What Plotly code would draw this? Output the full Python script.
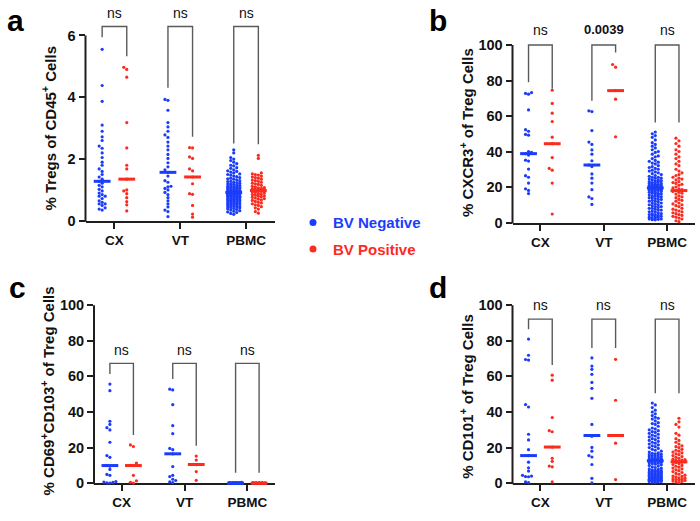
import numpy as np
import plotly.graph_objects as go

W, H = 700, 521
FONT = "Liberation Sans, Arial, Helvetica, sans-serif"
BLUE = "#1b3dfb"
RED = "#fb2b1e"
AXIS = "#1e1e1e"
BRACKET = "#5a5a5a"

categories = ["CX", "VT", "PBMC"]
legend_names = ["BV Negative", "BV Positive"]

# ---------------- panel a: % Tregs of CD45+ cells ----------------
a_cx_neg = [5.55, 4.38, 3.87, 3.10, 2.90, 2.72, 2.60, 2.42, 2.35, 2.20, 2.05, 1.90, 1.80,
            1.68, 1.60, 1.50, 1.42, 1.35, 1.28, 1.22, 1.15, 1.10, 1.02, 0.97, 0.90, 0.85,
            0.80, 0.80, 0.72, 0.65, 0.60, 0.55, 0.55, 0.50, 0.42, 0.38, 0.35]
a_cx_pos = [4.97, 4.90, 4.65, 3.18, 2.36, 1.80, 1.68, 1.35, 1.00, 0.97, 0.88, 0.75, 0.62,
            0.52, 0.32]
a_vt_neg = [3.93, 3.90, 3.58, 3.18, 3.04, 2.90, 2.78, 2.70, 2.55, 2.42, 2.30, 2.15, 2.02,
            1.88, 1.75, 1.65, 1.57, 1.45, 1.30, 1.25, 1.12, 1.10, 1.05, 1.00, 0.92, 0.85,
            0.75, 0.65, 0.55, 0.45, 0.35, 0.30, 0.14]
a_vt_pos = [2.37, 2.36, 2.07, 2.02, 1.68, 1.62, 1.42, 1.20, 0.88, 0.86, 0.50, 0.22, 0.12]
a_pbmc_neg = [2.30, 2.20, 2.05, 2.00, 1.95, 1.90, 1.85, 1.80, 1.78, 1.72, 1.70, 1.65, 1.62,
              1.60, 1.58, 1.55, 1.52, 1.50, 1.48, 1.45, 1.43, 1.40, 1.38, 1.36, 1.35, 1.33,
              1.30, 1.28, 1.27, 1.25, 1.24, 1.22, 1.20, 1.19, 1.18, 1.16, 1.15, 1.14, 1.12,
              1.11, 1.10, 1.09, 1.08, 1.07, 1.06, 1.05, 1.04, 1.03, 1.02, 1.01, 1.00, 0.99,
              0.98, 0.97, 0.97, 0.96, 0.95, 0.95, 0.94, 0.93, 0.93, 0.92,
              0.91, 0.91, 0.90, 0.90, 0.89, 0.88, 0.88, 0.87, 0.86, 0.85, 0.85, 0.84, 0.83,
              0.82, 0.81, 0.80, 0.80, 0.79, 0.78, 0.77, 0.76, 0.75, 0.74, 0.73, 0.72, 0.71,
              0.70, 0.69, 0.68, 0.67, 0.66, 0.65, 0.64, 0.63, 0.62, 0.61, 0.60, 0.58, 0.57,
              0.56, 0.55, 0.54, 0.52, 0.51, 0.50, 0.48, 0.47, 0.46, 0.45, 0.43, 0.42, 0.40,
              0.39, 0.37, 0.35, 0.33, 0.31, 0.29, 0.27, 0.24, 0.21]
a_pbmc_pos = [2.12, 2.02, 1.55, 1.52, 1.50, 1.48, 1.45, 1.42, 1.40, 1.38, 1.35, 1.32, 1.30,
              1.28, 1.25, 1.22, 1.20, 1.18, 1.15, 1.12, 1.10, 1.08, 1.07, 1.05, 1.04, 1.03,
              1.02, 1.01, 1.00, 0.99, 0.98, 0.97, 0.96, 0.95, 0.93, 0.92, 0.90, 0.88, 0.86,
              0.85, 0.83, 0.81, 0.80, 0.78, 0.76, 0.74, 0.72, 0.70, 0.68, 0.66, 0.63, 0.60,
              0.58, 0.55, 0.52, 0.50, 0.46, 0.42, 0.38, 0.30, 0.25]
a_sig = ["ns", "ns", "ns"]

# ---------------- panel b: % CXCR3+ of Treg cells ----------------
b_cx_neg = [73.2, 72.7, 72.3, 63.4, 52.3, 51.4, 49.6, 49.2, 40.0, 39.5, 38.8, 38.0, 35.1,
            34.6, 30.1, 26.4, 25.5, 22.2, 19.0, 18.1, 16.3]
b_cx_pos = [74.5, 67.1, 61.6, 56.9, 48.1, 44.4, 36.6, 30.5, 29.5, 22.2, 4.8]
b_vt_neg = [62.9, 62.5, 51.8, 45.3, 44.0, 40.9, 38.5, 34.8, 32.4, 31.5, 27.4, 25.0, 22.2,
            18.5, 14.4, 13.5, 10.2]
b_vt_pos = [89.0, 87.5, 74.3, 69.5, 48.3]
b_pbmc_neg = [51.0, 50.0, 49.0, 48.0, 46.5, 45.0, 44.0, 43.0, 42.0, 41.0, 40.0, 39.5, 38.5,
              37.5, 37.0, 36.0, 35.0, 34.5, 34.0, 33.5, 33.0, 32.0, 31.5, 31.0, 30.5, 30.0,
              29.5, 29.0, 28.5, 28.0, 27.5, 27.0, 26.5, 26.0, 25.5, 25.5, 25.0, 25.0, 24.5,
              24.0, 24.0, 23.5, 23.5, 23.0, 23.0, 22.5, 22.5, 22.0, 22.0, 21.5, 21.5, 21.5,
              21.0, 21.0, 21.0, 20.5, 20.5, 20.5, 20.0, 20.0, 20.0, 20.0, 19.8, 19.8, 19.7,
              19.7, 19.6, 19.6, 19.6, 19.5, 19.5,
              19.4, 19.4, 19.3, 19.2, 19.0, 19.0, 18.8, 18.5, 18.5, 18.2, 18.0, 18.0, 17.5,
              17.5, 17.0, 17.0, 16.5, 16.5, 16.0, 16.0, 15.5, 15.5, 15.0, 15.0, 14.5, 14.5,
              14.0, 14.0, 13.5, 13.0, 13.0, 12.5, 12.0, 12.0, 11.5, 11.0, 11.0, 10.5, 10.0,
              10.0, 9.5, 9.0, 9.0, 8.5, 8.0, 8.0, 7.5, 7.0, 7.0, 6.5, 6.0, 6.0, 5.5, 5.0,
              5.0, 4.5, 4.5, 4.0, 4.0, 3.5, 3.5, 3.0, 3.0, 2.5, 2.5, 2.0, 2.0, 1.8, 1.6, 1.5]
b_pbmc_pos = [47.5, 46.0, 44.5, 43.0, 41.0, 40.0, 38.5, 37.0, 36.0, 34.5, 33.0, 32.0, 30.0,
              29.0, 28.0, 27.0, 26.5, 25.5, 25.0, 24.5, 24.0, 23.0, 22.5, 22.0, 21.5, 21.0,
              20.0, 19.5, 19.0, 18.5, 18.0, 17.5, 17.0, 16.5, 16.0, 15.0, 14.5, 14.0, 13.0,
              12.5, 12.0, 11.0, 10.5, 10.0, 9.5, 9.0, 8.0, 7.5, 7.0, 6.5, 6.0, 5.5, 5.0,
              4.5, 4.0, 3.5, 3.0, 2.5, 2.0, 1.0, 0.5]
b_sig = ["ns", "0.0039", "ns"]

# ---------------- panel c: % CD69+CD103+ of Treg cells ----------------
c_cx_neg = [55.7, 52.0, 34.8, 33.0, 31.2, 29.9, 23.0, 15.5, 14.5, 9.9, 9.5, 7.7, 4.9, 4.4,
            0.9, 0.6, 0.4, 0.2, 0.1]
c_cx_pos = [21.5, 20.6, 11.3, 10.0, 9.9, 4.4, 1.3, 0.5, 0.1]
c_vt_neg = [52.8, 52.4, 44.1, 32.3, 27.8, 19.5, 18.8, 16.5, 9.3, 4.4, 3.7, 2.2, 1.5, 0.7, 0.3]
c_vt_pos = [15.2, 13.0, 10.6, 10.4, 6.5, 1.6]
c_pbmc_neg = [0.40, 0.35, 0.30, 0.30, 0.25, 0.20, 0.20, 0.20, 0.15, 0.15, 0.10, 0.10, 0.10,
              0.10, 0.08, 0.06, 0.05, 0.05, 0.05, 0.04, 0.03, 0.03, 0.02, 0.02, 0.02, 0.01,
              0.01, 0.01, 0.0, 0.0, 0.0, 0.0, 0.0, 0.0, 0.0, 0.0, 0.0, 0.0, 0.0, 0.0]
c_pbmc_pos = [0.30, 0.25, 0.20, 0.15, 0.10, 0.10, 0.08, 0.05, 0.05, 0.04, 0.03, 0.02, 0.02,
              0.01, 0.0, 0.0, 0.0, 0.0, 0.0, 0.0]
c_sig = ["ns", "ns", "ns"]

# ---------------- panel d: % CD101+ of Treg cells ----------------
d_cx_neg = [81.0, 71.9, 69.5, 69.2, 44.2, 42.8, 27.5, 24.3, 18.8, 15.5, 11.8, 8.6, 6.8, 4.4,
            4.0, 3.7, 3.6, 0.7, 0.3]
d_cx_pos = [60.7, 57.9, 36.9, 29.5, 28.9, 20.3, 14.0, 12.3, 9.6, 9.2, 0.7]
d_vt_neg = [70.4, 65.8, 64.0, 61.2, 56.6, 53.3, 47.7, 33.0, 26.8, 26.3, 20.1, 18.0, 15.5,
            14.7, 10.5, 2.7, 0.2]
d_vt_pos = [69.6, 46.6, 26.8, 22.5, 2.0]
d_pbmc_neg = [45.0, 44.0, 42.5, 41.0, 40.0, 39.0, 38.0, 37.0, 36.5, 36.0, 35.0, 34.0, 33.5,
              33.0, 32.0, 31.0, 30.5, 30.0, 29.5, 29.0, 28.5, 28.0, 27.5, 27.0, 26.5, 26.0,
              25.5, 25.0, 24.5, 24.0, 23.5, 23.0, 22.5, 22.0, 21.5, 21.0, 20.5, 20.0, 19.5,
              19.0, 18.5, 18.0, 17.5, 17.0, 16.8, 16.5, 16.2, 16.0, 15.8, 15.5, 15.2, 15.0,
              14.8, 14.5, 14.3, 14.0, 13.8, 13.6, 13.4, 13.2, 13.1, 13.0, 12.9, 12.8, 12.7,
              12.6,
              12.5, 12.4, 12.3, 12.2, 12.0, 11.8, 11.5, 11.2, 11.0, 10.7, 10.4, 10.0, 9.6,
              9.2, 8.8, 8.4, 8.0, 7.7, 7.5, 7.2, 7.0, 6.8, 6.6, 6.4, 6.2, 6.0, 5.8, 5.6,
              5.4, 5.2, 5.0, 4.8, 4.6, 4.4, 4.2, 4.0, 3.8, 3.6, 3.4, 3.2, 3.0, 2.9, 2.8,
              2.6, 2.4, 2.2, 2.0, 1.9, 1.8, 1.6, 1.5, 1.4, 1.2, 1.0, 0.9, 0.8, 0.6, 0.5,
              4.5, 3.5, 5.5, 6.5, 2.5, 1.7, 3.1]
d_pbmc_pos = [36.5, 34.5, 33.0, 31.5, 28.0, 27.0, 25.0, 24.0, 23.0, 22.0, 21.0, 20.5, 20.0,
              19.0, 18.5, 18.0, 17.5, 17.0, 16.5, 16.0, 15.5, 15.0, 14.5, 14.0, 13.5, 13.2,
              13.0, 12.8, 12.5, 12.2, 12.0, 11.8, 11.5, 11.0, 10.5, 10.0, 9.5, 9.0, 8.5,
              8.0, 7.5, 7.0, 6.5, 6.0, 5.5, 5.0, 4.5, 4.0, 3.8, 3.5, 3.0, 2.8, 2.5, 2.2,
              2.0, 1.8, 1.5, 1.2, 1.0, 0.6, 0.3]
d_sig = ["ns", "ns", "ns"]

# ---------------- layout of the four panels (pixel geometry) ----------------
panels = [
    dict(letter="a", xl=85.5, xr=275, y0=224.3, s=31.38, ytop=3, yticks=[0, 2, 4, 6],
         title="% Tregs of CD45<sup>+</sup> Cells", tx=48.5, ty=130, lx=5, ly=21,
         neg=[a_cx_neg, a_vt_neg, a_pbmc_neg], pos=[a_cx_pos, a_vt_pos, a_pbmc_pos],
         btop=6.29, legs=[(5.94, 5.33), (4.31, 2.72), (2.50, 2.48)], sig=a_sig, sigy=13),
    dict(letter="b", xl=512.5, xr=695, y0=226, s=1.803, ytop=3, yticks=[0, 20, 40, 60, 80, 100],
         title="% CXCR3<sup>+</sup> of Treg Cells", tx=467, ty=135, lx=427, ly=21,
         neg=[b_cx_neg, b_vt_neg, b_pbmc_neg], pos=[b_cx_pos, b_vt_pos, b_pbmc_pos],
         btop=100, legs=[(79, 75.4), (68.6, 95.8), (56.4, 56.4)], sig=b_sig, sigy=30),
    dict(letter="c", xl=94, xr=275, y0=490.7, s=1.807, ytop=290, yticks=[0, 20, 40, 60, 80, 100],
         title="% CD69<sup>+</sup>CD103<sup>+</sup> of Treg Cells", tx=47.5, ty=397, lx=7, ly=292,
         neg=[c_cx_neg, c_vt_neg, c_pbmc_neg], pos=[c_cx_pos, c_vt_pos, c_pbmc_pos],
         btop=67.3, legs=[(61.3, 27.1), (58.5, 21.0), (5.9, 5.9)], sig=c_sig, sigy=355),
    dict(letter="d", xl=512.5, xr=695, y0=490.7, s=1.807, ytop=290, yticks=[0, 20, 40, 60, 80, 100],
         title="% CD101<sup>+</sup> of Treg Cells", tx=467, ty=403, lx=427, ly=292,
         neg=[d_cx_neg, d_vt_neg, d_pbmc_neg], pos=[d_cx_pos, d_vt_pos, d_pbmc_pos],
         btop=92.2, legs=[(86.5, 66.4), (76.0, 76.0), (50.6, 50.6)], sig=d_sig, sigy=310),
]

XR = (-0.44, 2.44)
OFF = 0.187


def fx(px):
    return px / W


def fy(py):
    return 1 - py / H


def swarm(vals, sy, d=3.0, step=3.0, maxk=2):
    """Deterministic beeswarm offsets (pixels) for one column."""
    vals = np.asarray(vals, dtype=float)
    order = np.argsort(vals, kind="stable")
    cands = [0.0]
    for k in range(1, maxk + 1):
        cands += [-k * step, k * step]
    placed = []
    offs = np.zeros(len(vals))
    for i in order:
        y = vals[i] * sy
        near = [(px, py) for px, py in placed if abs(py - y) < d]
        chosen = None
        best, bestc = -1.0, 0.0
        for c in cands:
            if all(abs(px - c) >= d - 1e-6 for px, py in near):
                chosen = c
                break
            score = min(np.hypot(px - c, py - y) for px, py in near)
            if score > best:
                best, bestc = score, c
        if chosen is None:
            chosen = bestc
        placed.append((chosen, y))
        offs[i] = chosen
    return offs


fig = go.Figure()
layout = {}
shapes = []
annotations = []
tickfont_y = dict(family=FONT, size=14.5, color="#111111", weight="bold")
tickfont_x = dict(family=FONT, size=13.5, color="#111111", weight="bold")

for i, p in enumerate(panels):
    n = "" if i == 0 else str(i + 1)
    xa, ya = "x" + n, "y" + n
    sx = (p["xr"] - p["xl"]) / (XR[1] - XR[0])
    ytop_val = (p["y0"] - p["ytop"]) / p["s"]
    layout["xaxis" + n] = dict(domain=[fx(p["xl"]), fx(p["xr"])], range=list(XR), anchor=ya,
                               tickvals=[0, 1, 2], ticktext=categories, ticks="outside",
                               ticklen=6, tickwidth=2, tickcolor=AXIS, showline=True,
                               linewidth=2, linecolor=AXIS, showgrid=False, zeroline=False,
                               tickfont=tickfont_x, layer="below traces", fixedrange=True)
    layout["yaxis" + n] = dict(domain=[fy(p["y0"]), fy(p["ytop"])], range=[0, ytop_val],
                               anchor=xa, tickvals=p["yticks"], ticks="outside", ticklen=6,
                               tickwidth=2, tickcolor=AXIS, showline=False, showgrid=False,
                               zeroline=False, tickfont=tickfont_y, fixedrange=True)
    ymax = p["yticks"][-1]
    shapes.append(dict(type="line", xref="paper", yref="paper",
                       x0=fx(p["xl"]), x1=fx(p["xl"]),
                       y0=fy(p["y0"] + 1), y1=fy(p["y0"] - ymax * p["s"]),
                       line=dict(color=AXIS, width=2)))

    for k in range(3):
        for sign, vals, color in ((-1, p["neg"][k], BLUE), (1, p["pos"][k], RED)):
            c = k + sign * OFF
            offs = swarm(vals, p["s"])
            fig.add_trace(go.Scatter(x=c + offs / sx, y=vals, mode="markers",
                                     marker=dict(size=3.2, color=color),
                                     xaxis=xa, yaxis=ya, cliponaxis=False,
                                     showlegend=False, hoverinfo="skip"))
            fig.add_trace(go.Scatter(x=[c], y=[float(np.median(vals))], mode="markers",
                                     marker=dict(symbol="line-ew", size=12,
                                                 line=dict(width=3, color=color)),
                                     xaxis=xa, yaxis=ya, cliponaxis=False,
                                     showlegend=False, hoverinfo="skip"))
        lL, lR = p["legs"][k]
        fig.add_trace(go.Scatter(x=[k - OFF, k - OFF, k + OFF, k + OFF],
                                 y=[lL, p["btop"], p["btop"], lR], mode="lines",
                                 line=dict(color=BRACKET, width=1.4),
                                 xaxis=xa, yaxis=ya, showlegend=False, hoverinfo="skip"))
        txt = p["sig"][k]
        annotations.append(dict(text=txt, xref="paper", yref="paper",
                                x=fx(p["xl"] + (k - XR[0]) * sx), y=fy(p["sigy"]),
                                xanchor="center", yanchor="middle", showarrow=False,
                                font=dict(family=FONT, size=13 if txt != "ns" else 14,
                                          color="#111111",
                                          weight="bold" if txt != "ns" else "normal")))

    annotations.append(dict(text=p["title"], xref="paper", yref="paper", x=fx(p["tx"]),
                            y=fy(p["ty"]), xanchor="center", yanchor="middle",
                            textangle=-90, showarrow=False,
                            font=dict(family=FONT, size=15, color="#111111", weight="bold")))
    annotations.append(dict(text=p["letter"], xref="paper", yref="paper", x=fx(p["lx"]),
                            y=fy(p["ly"]), xanchor="left", yanchor="middle", showarrow=False,
                            font=dict(family=FONT, size=30, color="#000000", weight="bold")))

# legend entries
for name, color, grp in ((legend_names[0], BLUE, "neg"), (legend_names[1], RED, "pos")):
    fig.add_trace(go.Scatter(x=[None], y=[None], mode="markers",
                             marker=dict(size=7, color=color),
                             name=f'<span style="color:{color}">{name}</span>',
                             legendgroup=grp, showlegend=True, hoverinfo="skip"))

fig.update_layout(
    width=W, height=H, margin=dict(l=0, r=0, t=0, b=0),
    paper_bgcolor="white", plot_bgcolor="white",
    shapes=shapes, annotations=annotations,
    legend=dict(x=fx(293), y=fy(209.5), xanchor="left", yanchor="top",
                font=dict(family=FONT, size=15, weight="bold"),
                bgcolor="rgba(0,0,0,0)", traceorder="grouped", tracegroupgap=4,
                itemclick=False, itemdoubleclick=False),
    hovermode=False,
    **layout,
)

fig.write_html("out.html", config={"displayModeBar": False},
               post_script="document.body.style.margin='0px';document.body.style.padding='0px';")
